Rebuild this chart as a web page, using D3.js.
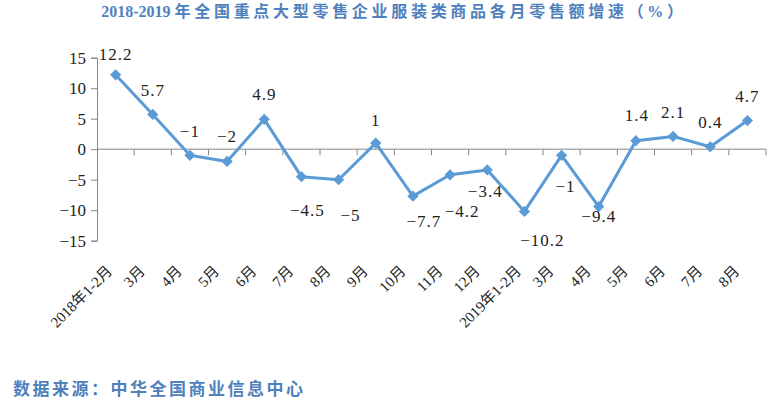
<!DOCTYPE html>
<head>
    <meta charset="utf-8">
    <style>
        body { margin: 0; background: #fff; }
        svg text { font-family: "Liberation Serif", "Times New Roman", "Noto Sans CJK SC", serif; }
        .axis path, .axis line { stroke: #868686; }
    </style>
</head>
<body>
    <div id="chart"></div>
    <script src="https://d3js.org/d3.v7.min.js"></script>
    <script>
        // categories and values
        var months = ["2018年1-2月", "3月", "4月", "5月", "6月", "7月", "8月", "9月", "10月", "11月", "12月",
                      "2019年1-2月", "3月", "4月", "5月", "6月", "7月", "8月"];
        var growth = [12.2, 5.7, -1, -2, 4.9, -4.5, -5, 1, -7.7, -4.2, -3.4, -10.2, -1, -9.4, 1.4, 2.1, 0.4, 4.7];
        var yTicks = [-15, -10, -5, 0, 5, 10, 15];

        // where each value label sits relative to its point (px)
        var labelOffsets = [[0,-21],[0,-24],[0,-24],[0,-25],[0,-25],[6,33],[12,35],[0,-23],[11,25],
                            [12,36],[-2,21],[18,29],[4,31],[0,10],[1,-26],[0,-24],[0,-25],[0,-24]];

        var width = 771, height = 406;
        var blue = "#5B9BD5";

        var svg = d3.select("#chart").append("svg")
            .attr("width", width)
            .attr("height", height);

        // title
        var title = svg.append("text")
            .attr("x", 394)
            .attr("y", 17)
            .attr("text-anchor", "middle")
            .attr("fill", "#4F81BD")
            .attr("font-weight", "bold")
            .attr("font-size", "16px");
        title.append("tspan").text("2018-2019 ");
        title.append("tspan").attr("letter-spacing", "3.7px").text("年全国重点大型零售企业服装类商品各月零售额增速（%）");

        var x = d3.scaleBand()
            .domain(d3.range(months.length))
            .range([97, 766])
            .padding(0);

        var y = d3.scaleLinear()
            .domain([-15, 15])
            .range([240.7, 57.7]);

        var cx = function(i) { return x(i) + x.bandwidth() / 2; };

        // y axis
        svg.append("g")
            .attr("class", "axis")
            .attr("transform", "translate(97,0)")
            .call(d3.axisLeft(y).tickValues(yTicks).tickSize(6).tickSizeOuter(6).tickPadding(5))
            .call(function(g) {
                g.selectAll("text")
                    .attr("font-size", "17px")
                    .attr("fill", "#222")
                    .text(function(d) { return d < 0 ? "\u2212" + Math.abs(d) : d; });
            });

        // x axis along zero, ticks at band edges
        var xAxis = svg.append("g")
            .attr("class", "axis")
            .attr("transform", "translate(0," + y(0) + ")");
        xAxis.append("line")
            .attr("x1", 97).attr("x2", 766)
            .attr("stroke", "#868686");
        xAxis.selectAll(".tk")
            .data(d3.range(1, months.length + 1))
            .enter().append("line")
            .attr("x1", function(d) { return x(d - 1) + x.bandwidth(); })
            .attr("x2", function(d) { return x(d - 1) + x.bandwidth(); })
            .attr("y1", 0).attr("y2", 6)
            .attr("stroke", "#868686");

        // rotated category labels
        svg.selectAll(".cat")
            .data(months)
            .enter().append("text")
            .attr("class", "cat")
            .attr("font-size", "15px")
            .attr("fill", "#222")
            .attr("text-anchor", "end")
            .text(function(d) { return d; })
            .each(function(d, i) {
                var w = this.getComputedTextLength();
                var ax = cx(i) - 7 + (w - 22) * 0.08;
                d3.select(this).attr("transform", "translate(" + ax + ",272) rotate(-45)");
            });

        // line
        var line = d3.line()
            .x(function(d, i) { return cx(i); })
            .y(function(d) { return y(d); });

        svg.append("path")
            .datum(growth)
            .attr("fill", "none")
            .attr("stroke", blue)
            .attr("stroke-width", 3)
            .attr("stroke-linejoin", "round")
            .attr("d", line);

        // diamond markers
        svg.selectAll(".pt")
            .data(growth)
            .enter().append("path")
            .attr("class", "pt")
            .attr("d", d3.symbol(d3.symbolSquare, 48)())
            .attr("transform", function(d, i) { return "translate(" + cx(i) + "," + y(d) + ") rotate(45)"; })
            .attr("fill", blue)
            .attr("stroke", blue);

        // value labels
        svg.selectAll(".val")
            .data(growth)
            .enter().append("text")
            .attr("class", "val")
            .attr("font-size", "17px")
            .attr("fill", "#222")
            .attr("letter-spacing", "1px")
            .attr("text-anchor", "middle")
            .attr("x", function(d, i) { return cx(i) + labelOffsets[i][0]; })
            .attr("y", function(d, i) { return y(d) + labelOffsets[i][1]; })
            .attr("dy", "0.35em")
            .text(function(d) { return d < 0 ? "\u2212" + Math.abs(d) : d; });

        // source note
        svg.append("text")
            .attr("x", 13)
            .attr("y", 395)
            .attr("fill", "#4F81BD")
            .attr("font-weight", "bold")
            .attr("font-size", "17px")
            .attr("letter-spacing", "2.5px")
            .text("数据来源：中华全国商业信息中心");
    </script>
</body>
